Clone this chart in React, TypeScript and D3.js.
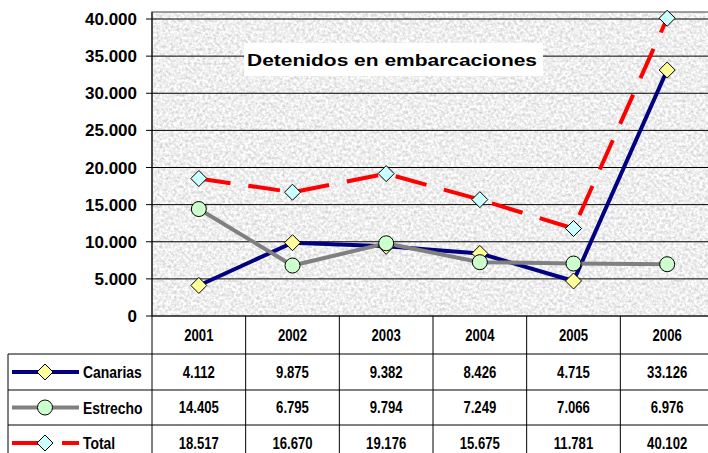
import React from "react";
import * as d3 from "d3";

const years = ["2001", "2002", "2003", "2004", "2005", "2006"];
const canarias = [4112, 9875, 9382, 8426, 4715, 33126];
const estrecho = [14405, 6795, 9794, 7249, 7066, 6976];
const total = [18517, 16670, 19176, 15675, 11781, 40102];
const yTicks = [0, 5000, 10000, 15000, 20000, 25000, 30000, 35000, 40000];
const title = "Detenidos en embarcaciones";

const W = 708;
const H = 453;
const plotL = 152;
const plotR = 714;
const plotT = 12;
const plotB = 316;

const fmt = (v: number) => {
  const s = String(v);
  return s.replace(/\B(?=(\d{3})+(?!\d))/g, ".");
};

const NarrowText = ({
  x,
  y,
  anchor = "middle",
  size = 16,
  children,
}: {
  x: number;
  y: number;
  anchor?: string;
  size?: number;
  children: any;
}) => (
  <g transform={`translate(${x},${y}) scale(0.82,1)`}>
    <text x={0} y={0} dy="0.36em" textAnchor={anchor} fontWeight="bold" fontSize={size}>
      {children}
    </text>
  </g>
);

export default function App() {
  const x = d3.scaleBand<string>().domain(years).range([plotL, plotR]).padding(0);
  const y = d3.scaleLinear().domain([0, 40000]).range([316, 19]);
  const cx = (i: number) => (x(years[i]) as number) + x.bandwidth() / 2;
  const line = d3
    .line<number>()
    .x((_, i) => cx(i))
    .y((d) => y(d));

  const series = [
    { name: "Canarias", data: canarias, color: "#000080", marker: "diamond", fill: "#FFFF99", dash: undefined },
    { name: "Estrecho", data: estrecho, color: "#808080", marker: "circle", fill: "#CCFFCC", dash: undefined },
    { name: "Total", data: total, color: "#FF0000", marker: "diamond", fill: "#CCFFFF", dash: "32 18" },
  ];

  const diamond = (px: number, py: number, r = 8) =>
    `M${px},${py - r}L${px + r},${py}L${px},${py + r}L${px - r},${py}Z`;

  const marker = (s: any, px: number, py: number, key: string) =>
    s.marker === "diamond" ? (
      <path key={key} d={diamond(px, py)} fill={s.fill} stroke="#000" strokeWidth={1} />
    ) : (
      <circle key={key} cx={px} cy={py} r={7.5} fill={s.fill} stroke="#000" strokeWidth={1} />
    );

  const rowTops = [316, 354, 390, 425, 461];

  return (
    <svg
      width={W}
      height={H}
      style={{ position: "absolute", left: 0, top: 0, background: "#fff" }}
      fontFamily="'Liberation Sans', Arial, sans-serif"
    >
      <defs>
        <filter id="granite" x="0" y="0" width="100%" height="100%" colorInterpolationFilters="sRGB">
          <feTurbulence type="fractalNoise" baseFrequency="0.35" numOctaves={4} seed={7} result="n" />
          <feColorMatrix
            in="n"
            type="matrix"
            values="0.35 0 0 0 0.76  0.35 0 0 0 0.76  0.35 0 0 0 0.76  0 0 0 0 1"
          />
        </filter>
        <clipPath id="plotClip">
          <rect x={plotL} y={plotT} width={plotR - plotL} height={plotB - plotT} />
        </clipPath>
      </defs>

      {/* plot background */}
      <rect x={plotL} y={plotT} width={plotR - plotL} height={plotB - plotT} fill="#e8e8e8" />
      <rect x={plotL} y={plotT} width={plotR - plotL} height={plotB - plotT} filter="url(#granite)" />
      <rect
        x={plotL}
        y={plotT}
        width={plotR - plotL}
        height={plotB - plotT}
        fill="none"
        stroke="#808080"
        strokeWidth={1.5}
      />

      {/* gridlines */}
      {yTicks.map((t) => (
        <line key={"g" + t} x1={plotL} x2={plotR} y1={y(t)} y2={y(t)} stroke="#000" strokeWidth={1} />
      ))}

      {/* y axis */}
      <line x1={plotL} x2={plotL} y1={plotT} y2={H} stroke="#000" strokeWidth={1} />
      {yTicks.map((t) => (
        <g key={"t" + t}>
          <line x1={plotL - 6} x2={plotL} y1={y(t)} y2={y(t)} stroke="#000" strokeWidth={1} />
          <text x={137} y={y(t)} dy="0.36em" textAnchor="end" fontWeight="bold" fontSize={17}>
            {fmt(t)}
          </text>
        </g>
      ))}

      {/* title */}
      <rect x={244} y={43} width={299} height={33} fill="#fff" />
      <text x={247} y={66} fontWeight="bold" fontSize={17} textLength={290} lengthAdjust="spacingAndGlyphs">
        {title}
      </text>

      {/* series lines */}
      <g clipPath="url(#plotClip)">
        {series.map((s) => (
          <path
            key={s.name}
            d={line(s.data) as string}
            fill="none"
            stroke={s.color}
            strokeWidth={4}
            strokeDasharray={s.dash}
          />
        ))}
      </g>
      {series.map((s) => (
        <g key={"m" + s.name}>{s.data.map((v, i) => marker(s, cx(i), y(v), s.name + i))}</g>
      ))}

      {/* data table */}
      <g stroke="#000" strokeWidth={1}>
        {years.map((yr) => (
          <line
            key={"v" + yr}
            x1={(x(yr) as number) + x.bandwidth()}
            x2={(x(yr) as number) + x.bandwidth()}
            y1={plotB}
            y2={H}
          />
        ))}
        {rowTops.slice(1, 4).map((r) => (
          <line key={"h" + r} x1={8} x2={plotR} y1={r} y2={r} />
        ))}
        <line x1={8} x2={8} y1={354} y2={H} />
      </g>

      {years.map((yr, i) => (
        <NarrowText key={"yl" + yr} x={cx(i)} y={(rowTops[0] + rowTops[1]) / 2}>
          {yr}
        </NarrowText>
      ))}

      {series.map((s, si) => {
        const cy = (rowTops[si + 1] + rowTops[si + 2]) / 2;
        return (
          <g key={"row" + s.name}>
            <path
              d={`M12,${cy}L79,${cy}`}
              stroke={s.color}
              strokeWidth={4}
              strokeDasharray={s.dash}
              fill="none"
            />
            {marker(s, 45, cy, "lm" + s.name)}
            <NarrowText x={83} y={cy} anchor="start" size={17}>
              {s.name}
            </NarrowText>
            {s.data.map((v, i) => (
              <NarrowText key={"v" + i} x={cx(i)} y={cy}>
                {fmt(v)}
              </NarrowText>
            ))}
          </g>
        );
      })}
    </svg>
  );
}
